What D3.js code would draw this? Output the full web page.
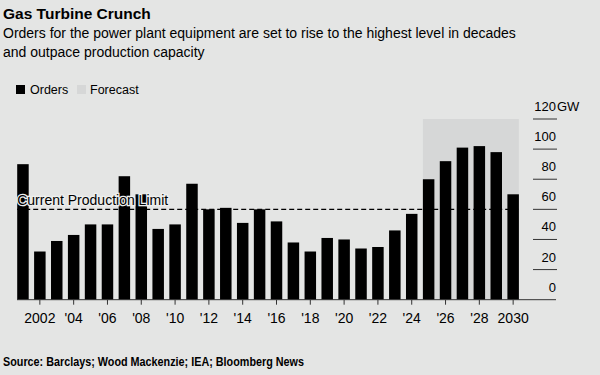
<!DOCTYPE html>
<html>
<head>
<meta charset="utf-8">
<script src="https://cdn.jsdelivr.net/npm/d3@7"></script>
<style>
  body { margin: 0; background: #e4e5e4; }
  svg { display: block; font-family: "Liberation Sans", Arial, sans-serif; }
</style>
</head>
<body>
<div id="chart"></div>
<script>
const years = d3.range(2001, 2031);
const orders = [90, 32, 39, 43, 50, 50, 82, 70, 47, 50,
                77, 60, 61, 51, 60, 52, 38, 32, 41, 40,
                34, 35, 46, 57, 80, 92, 101, 102, 98, 70];
const forecastYears = [2025, 2030];
const productionLimit = 60;
const yTicks = [0, 20, 40, 60, 80, 100, 120];
const xTicks = d3.range(2002, 2031, 2);

const width = 600, height = 375;
const bg = '#e4e5e4';

const svg = d3.select('#chart').append('svg')
    .attr('width', width).attr('height', height);

svg.append('rect').attr('width', width).attr('height', height).attr('fill', bg);

// titles
svg.append('text').attr('x', 3).attr('y', 19)
    .style('font-size', '15.5px').style('font-weight', 'bold').attr('fill', '#000')
    .text('Gas Turbine Crunch');
const sub = svg.append('text').attr('x', 3).attr('y', 38)
    .style('font-size', '14px').attr('fill', '#000');
sub.append('tspan').attr('x', 3).text('Orders for the power plant equipment are set to rise to the highest level in decades');
sub.append('tspan').attr('x', 3).attr('dy', 19).text('and outpace production capacity');

// legend
svg.append('rect').attr('x', 16).attr('y', 85).attr('width', 9).attr('height', 9).attr('fill', '#000');
svg.append('text').attr('x', 30).attr('y', 94).style('font-size', '12.5px').text('Orders');
svg.append('rect').attr('x', 77).attr('y', 85).attr('width', 9).attr('height', 9).attr('fill', '#d6d7d7');
svg.append('text').attr('x', 90).attr('y', 94).style('font-size', '12.5px').text('Forecast');

// scales
const x = d3.scaleBand(years, [14.5, 521.6]).paddingInner(0.32).paddingOuter(0.16);
const y = d3.scaleLinear([0, 120], [299.7, 119]);

// forecast shading
svg.append('rect')
    .attr('x', x(forecastYears[0]))
    .attr('y', y(120))
    .attr('width', x(forecastYears[1]) + x.bandwidth() - x(forecastYears[0]))
    .attr('height', y(0) - y(120))
    .attr('fill', '#d6d7d7');

// bars
svg.append('g').selectAll('rect')
    .data(years.map((yr, i) => [yr, orders[i]]))
    .join('rect')
    .attr('x', d => x(d[0]))
    .attr('y', d => y(d[1]))
    .attr('width', x.bandwidth())
    .attr('height', d => y(0) - y(d[1]))
    .attr('fill', '#000');

// production limit
const x0 = x(years[0]), x1 = x(years[years.length - 1]) + x.bandwidth();
svg.append('line')
    .attr('x1', x0).attr('x2', x1)
    .attr('y1', y(productionLimit)).attr('y2', y(productionLimit))
    .attr('stroke', '#000').attr('stroke-width', 1.2).attr('stroke-dasharray', '5,3');
svg.append('text').attr('x', x0).attr('y', y(productionLimit) - 4)
    .style('font-size', '14px')
    .attr('stroke', '#eeefee').attr('stroke-width', 2.5).attr('paint-order', 'stroke')
    .attr('fill', '#000')
    .text('Current Production Limit');

// x axis
const xAxis = d3.axisBottom(x).tickValues(xTicks).tickSize(5).tickSizeOuter(0)
    .tickFormat(d => (d === 2002 || d === 2030) ? String(d) : "'" + String(d).slice(2));
const gx = svg.append('g').attr('transform', `translate(0,${y(0)})`).call(xAxis);
gx.select('.domain').remove();
gx.selectAll('.tick line').attr('stroke', '#333');
gx.selectAll('.tick text').attr('dy', 0).attr('y', 23)
    .style('font-size', '14px').style('font-family', '"Liberation Sans", Arial, sans-serif').attr('fill', '#000');

svg.append('line').attr('x1', 17).attr('x2', 556)
    .attr('y1', y(0)).attr('y2', y(0)).attr('stroke', '#333').attr('stroke-width', 1);

// y axis (right, labels above short lines)
const gy = svg.append('g');
gy.selectAll('line').data(yTicks.filter(d => d > 0)).join('line')
    .attr('x1', 533).attr('x2', 557)
    .attr('y1', d => y(d)).attr('y2', d => y(d))
    .attr('stroke', '#333');
gy.selectAll('text').data(yTicks).join('text')
    .attr('x', 556).attr('y', d => y(d) - 8)
    .attr('text-anchor', 'end')
    .style('font-size', '13px')
    .text(d => d);
svg.append('text').attr('x', 557).attr('y', y(120) - 8).style('font-size', '13px').text('GW');

// source (condensed face in the original)
svg.append('text').attr('x', 3).attr('y', 366)
    .style('font-size', '13px').style('font-weight', 'bold')
    .attr('textLength', 301).attr('lengthAdjust', 'spacingAndGlyphs')
    .text('Source: Barclays; Wood Mackenzie; IEA; Bloomberg News');
</script>
</body>
</html>
